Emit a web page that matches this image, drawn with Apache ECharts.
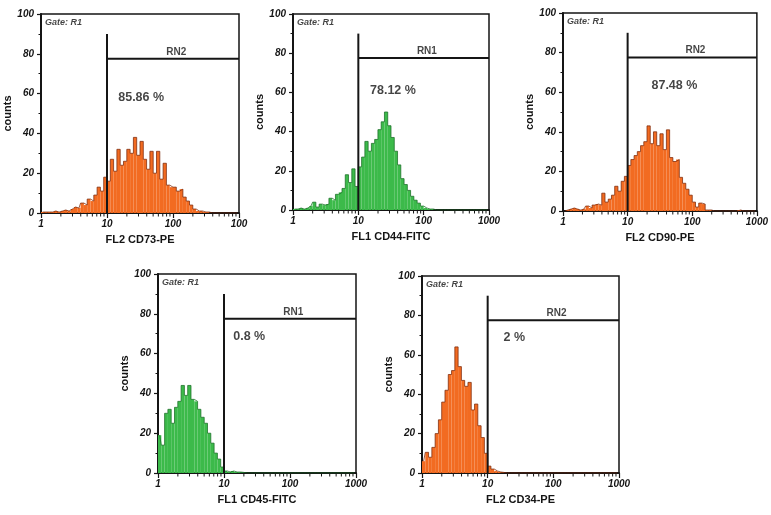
<!DOCTYPE html>
<html>
<head>
<meta charset="utf-8">
<script src="https://cdn.jsdelivr.net/npm/echarts@6/dist/echarts.min.js"></script>
<style>
html,body{margin:0;padding:0;background:#fff;}
#chart{width:771px;height:515px;}
</style>
</head>
<body>
<div id="chart"></div>
<script>
// ---- DATA ----
// histogram channels: 20 channels per decade over 3 decades (1 .. 1000)
const channels = Array.from({length: 60}, (_, i) => i);

const cd73Counts = [0.5,0.5,0.5,0.5,1,0.5,1,1.5,1,2, 3,2.5,5,4,7,6,9,13,11,18,
  16,27,21,32,24,26,32,30,38,29, 36,27,22,31,20,31,17,25,14,13,
  13,11,12,8,6,4,2,1,1,0.5, 0.5,0,0,0,0,0,0,0,0,0];
const cd44Counts = [0.5,0.5,1,0.5,1,2,4,1.5,3,2.5, 3,6,5,8,9,11,18,14,21,12,
  22,27,35,30,34,36,41,45,50,43, 37,30,23,16,13,10,7,5,3.5,2,
  1,0.5,0.5,0,0,0,0,0,0,0, 0,0,0,0,0,0,0,0,0,0];
const cd90Counts = [0,0.5,1,1.5,1,0.5,1,2.5,1.5,3, 3.5,3,9,4.5,6,8,12.5,10,15,17.5,
  23,26,28,30,33,35,43,34,40,33, 39,31,41,27,25,26,17,14,11,8,
  4.5,2,4,3.5,0.5,0.5,0,0,0,0, 0,0,0,0,0.5,0,0,0,0,0];
const cd45Counts = [19,14,30,32,25,33,36,44,39,44, 37,36,32,28,25,20,15,10,7,3,
  1,0.5,1,0.5,0.5,0.3,0,0,0,0, 0,0,0,0,0,0,0,0,0,0,
  0,0,0,0,0,0,0,0,0,0, 0,0,0,0,0,0,0,0,0,0];
const cd34Counts = [6,10.5,8,13,20,27,36,42,50,52, 64,54,47,44,46,32,35,24,18,10,
  3.5,2,1,0.5,0.3,0,0,0,0,0, 0,0,0,0,0,0,0,0,0,0,
  0,0,0,0,0,0,0,0,0,0, 0,0,0,0,0,0,0,0,0,0];

const xTickLabelsFirst = ['1','10','100','100'];
const xTickLabels = ['1','10','100','1000'];
const yTicks = [0,20,40,60,80,100];
const minorTickValues = [2,3,4,5,6,7,8,9,20,30,40,50,60,70,80,90,200,300,400,500,600,700,800,900];

const panelNames = ['FL2 CD73-PE','FL1 CD44-FITC','FL2 CD90-PE','FL1 CD45-FITC','FL2 CD34-PE'];
const percentages = ['85.86 %','78.12 %','87.48 %','0.8 %','2 %'];
const gateNames = ['RN2','RN1','RN2','RN1','RN2'];
const gateThreshold = 10;
const gateTop = 90;
const gateLevel = 77.5;
const allCounts = [cd73Counts, cd44Counts, cd90Counts, cd45Counts, cd34Counts];
const tickLabelSets = [xTickLabelsFirst, xTickLabels, xTickLabels, xTickLabels, xTickLabels];

// ---- LAYOUT / STYLE ----
const grids = [
  {left: 41, top: 14, width: 198, height: 199},
  {left: 293, top: 14, width: 196, height: 196},
  {left: 563, top: 13, width: 197, height: 198},
  {left: 158, top: 274, width: 198, height: 199},
  {left: 422, top: 276, width: 197, height: 197}
];
const percentPos = [[14.8,58],[15.1,61],[23.4,63.6],[13.8,68.5],[17.4,68.7]];
const palettes = {
  orange: {fill: '#f26b21', edge: '#7d2a0c'},
  green:  {fill: '#3cba4a', edge: '#1c6f28'}
};
const panelColors = ['orange','green','orange','green','orange'];
const FONT = 'Liberation Sans';
const INK = '#151515';

const option = {
  animation: false,
  backgroundColor: '#fff',
  grid: [], xAxis: [], yAxis: [], series: []
};

grids.forEach((g, i) => {
  option.grid.push(Object.assign({show: true, borderColor: INK, borderWidth: 1.5, containLabel: false}, g));
  const labels = tickLabelSets[i];
  // visible log axis
  option.xAxis.push({
    gridIndex: i, type: 'log', logBase: 10, min: 1, max: 1000,
    axisLine: {show: true, lineStyle: {color: INK, width: 2}},
    axisTick: {show: true, length: 5, lineStyle: {color: INK, width: 1.2}},
    axisLabel: {
      formatter: v => labels[Math.round(Math.log10(v))],
      fontFamily: FONT, fontStyle: 'italic', fontWeight: 'bold', fontSize: 10, color: INK, margin: 6
    },
    splitLine: {show: false},
    name: panelNames[i], nameLocation: 'middle', nameGap: 21,
    nameTextStyle: {fontFamily: FONT, fontWeight: 'bold', fontSize: 11, color: INK}
  });
  // hidden channel axis for histogram bars
  option.xAxis.push({
    gridIndex: i, type: 'category', data: channels, show: false, boundaryGap: true
  });
  option.yAxis.push({
    gridIndex: i, type: 'value', min: 0, max: 100, interval: 20,
    axisLine: {show: true, lineStyle: {color: INK, width: 2}},
    axisTick: {show: true, length: 4, lineStyle: {color: INK, width: 1.2}},
    minorTick: {show: true, splitNumber: 2, length: 2.5, lineStyle: {color: INK, width: 1}},
    axisLabel: {fontFamily: FONT, fontStyle: 'italic', fontWeight: 'bold', fontSize: 10, color: INK, margin: 7},
    splitLine: {show: false},
    name: 'counts', nameLocation: 'middle', nameGap: 25,
    nameTextStyle: {fontFamily: FONT, fontWeight: 'bold', fontSize: 11, color: INK}
  });
  const pal = palettes[panelColors[i]];
  const counts = allCounts[i];
  option.series.push({
    type: 'bar', xAxisIndex: 2*i+1, yAxisIndex: i, data: counts,
    barCategoryGap: '0%', itemStyle: {color: pal.fill}, silent: true, z: 2
  });
  option.series.push({
    type: 'line', xAxisIndex: 2*i+1, yAxisIndex: i, data: counts, step: 'middle',
    symbol: 'none', lineStyle: {color: pal.edge, width: 0.9, opacity: 0.85}, silent: true, z: 3
  });
  // gate lines
  option.series.push({
    type: 'line', xAxisIndex: 2*i, yAxisIndex: i,
    data: [[gateThreshold, 0], [gateThreshold, gateTop]],
    symbol: 'none', lineStyle: {color: INK, width: 2}, silent: true, z: 6
  });
  option.series.push({
    type: 'line', xAxisIndex: 2*i, yAxisIndex: i,
    data: [[gateThreshold, gateLevel], [1000, gateLevel]],
    symbol: 'none', lineStyle: {color: INK, width: 2}, silent: true, z: 6
  });
  // x minor ticks
  option.series.push({
    type: 'custom', xAxisIndex: 2*i, yAxisIndex: i,
    data: minorTickValues.map(v => [v, 0]),
    encode: {x: 0, y: 1}, silent: true, clip: false, z: 6,
    renderItem: (params, api) => {
      const p = api.coord([api.value(0), 0]);
      return {type: 'line', shape: {x1: p[0], y1: p[1] + 1, x2: p[0], y2: p[1] + 3.5},
        style: {stroke: INK, lineWidth: 1}};
    }
  });
  // texts
  option.series.push({
    type: 'scatter', xAxisIndex: 2*i, yAxisIndex: i, symbolSize: 0, silent: true, z: 7,
    data: [
      {value: [112, gateLevel], label: {show: true, formatter: gateNames[i], position: 'top', distance: 2,
        fontFamily: FONT, fontWeight: 'bold', fontSize: 10, color: INK}},
      {value: percentPos[i], label: {show: true, formatter: percentages[i], position: 'right', distance: 0,
        fontFamily: FONT, fontWeight: 'bold', fontSize: 12.5, color: INK}},
      {value: [1, 100], label: {show: true, formatter: 'Gate: R1', position: [4, 4],
        fontFamily: FONT, fontStyle: 'italic', fontWeight: 'bold', fontSize: 9, color: INK}}
    ]
  });
});

const chart = echarts.init(document.getElementById('chart'), null, {renderer: 'canvas'});
chart.setOption(option);
</script>
</body>
</html>
